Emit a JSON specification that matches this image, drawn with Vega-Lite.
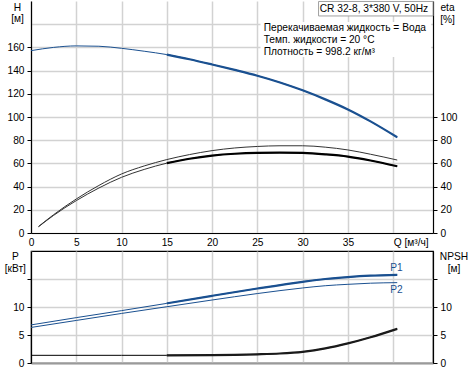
{
  "$schema": "https://vega.github.io/schema/vega-lite/v6.json",
  "padding": {"left": 3, "top": 0, "right": 0, "bottom": 0},
  "background": "white",
  "config": {
    "font": "Liberation Sans",
    "view": {"stroke": null},
    "axis": {
      "labelFont": "Liberation Sans", "labelFontSize": 10.2, "labelColor": "#000", "labelOverlap": false,
      "titleFont": "Liberation Sans", "titleFontSize": 10.2, "titleFontWeight": "normal", "titleColor": "#000",
      "domainColor": "#000", "domainWidth": 1.2, "tickColor": "#000", "tickSize": 4, "labelPadding": 3,
      "gridColor": "#d2d2d2", "gridWidth": 1.5
    },
    "line": {"interpolate": "monotone"},
    "text": {"font": "Liberation Sans", "fontSize": 10.2, "color": "#000"}
  },
  "datasets": {
    "curves": [
      {"curve": "H", "Q": 0, "value": 157.2},
      {"curve": "H", "Q": 2.5, "value": 160.0},
      {"curve": "H", "Q": 5, "value": 161.3},
      {"curve": "H", "Q": 7.5, "value": 161.0},
      {"curve": "H", "Q": 10, "value": 159.2},
      {"curve": "H", "Q": 12.5, "value": 156.7},
      {"curve": "H", "Q": 15, "value": 153.8},
      {"curve": "H", "Q": 17.5, "value": 149.8},
      {"curve": "H", "Q": 20, "value": 145.3},
      {"curve": "H", "Q": 22.5, "value": 140.6},
      {"curve": "H", "Q": 25, "value": 135.6},
      {"curve": "H", "Q": 27.5, "value": 129.8},
      {"curve": "H", "Q": 30, "value": 123.0},
      {"curve": "H", "Q": 32.5, "value": 115.2},
      {"curve": "H", "Q": 35, "value": 106.5},
      {"curve": "H", "Q": 37.5, "value": 96.2},
      {"curve": "H", "Q": 40.45, "value": 82.5},
      {"curve": "eta1", "Q": 0.83, "value": 5.6},
      {"curve": "eta1", "Q": 2.5, "value": 15.8},
      {"curve": "eta1", "Q": 5, "value": 29.3},
      {"curve": "eta1", "Q": 7.5, "value": 41.0},
      {"curve": "eta1", "Q": 10, "value": 50.9},
      {"curve": "eta1", "Q": 12.5, "value": 57.8},
      {"curve": "eta1", "Q": 15, "value": 63.3},
      {"curve": "eta1", "Q": 17.5, "value": 67.6},
      {"curve": "eta1", "Q": 20, "value": 71.0},
      {"curve": "eta1", "Q": 22.5, "value": 73.3},
      {"curve": "eta1", "Q": 25, "value": 74.6},
      {"curve": "eta1", "Q": 27.5, "value": 75.2},
      {"curve": "eta1", "Q": 30, "value": 75.2},
      {"curve": "eta1", "Q": 32.5, "value": 74.0},
      {"curve": "eta1", "Q": 35, "value": 71.6},
      {"curve": "eta1", "Q": 37.5, "value": 67.9},
      {"curve": "eta1", "Q": 40.45, "value": 62.9},
      {"curve": "eta2", "Q": 0.83, "value": 5.4},
      {"curve": "eta2", "Q": 2.5, "value": 15.2},
      {"curve": "eta2", "Q": 5, "value": 27.9},
      {"curve": "eta2", "Q": 7.5, "value": 38.8},
      {"curve": "eta2", "Q": 10, "value": 48.0},
      {"curve": "eta2", "Q": 12.5, "value": 54.8},
      {"curve": "eta2", "Q": 15, "value": 60.2},
      {"curve": "eta2", "Q": 17.5, "value": 64.0},
      {"curve": "eta2", "Q": 20, "value": 66.7},
      {"curve": "eta2", "Q": 22.5, "value": 68.3},
      {"curve": "eta2", "Q": 25, "value": 69.1},
      {"curve": "eta2", "Q": 27.5, "value": 69.3},
      {"curve": "eta2", "Q": 30, "value": 69.0},
      {"curve": "eta2", "Q": 32.5, "value": 67.8},
      {"curve": "eta2", "Q": 35, "value": 65.9},
      {"curve": "eta2", "Q": 37.5, "value": 62.5},
      {"curve": "eta2", "Q": 40.45, "value": 57.5},
      {"curve": "P1", "Q": 0, "value": 6.8},
      {"curve": "P1", "Q": 5, "value": 8.1},
      {"curve": "P1", "Q": 10, "value": 9.35},
      {"curve": "P1", "Q": 15, "value": 10.65},
      {"curve": "P1", "Q": 20, "value": 12.0},
      {"curve": "P1", "Q": 25, "value": 13.3},
      {"curve": "P1", "Q": 30, "value": 14.5},
      {"curve": "P1", "Q": 32.5, "value": 15.0},
      {"curve": "P1", "Q": 35, "value": 15.35},
      {"curve": "P1", "Q": 37.5, "value": 15.6},
      {"curve": "P1", "Q": 40.45, "value": 15.75},
      {"curve": "P2", "Q": 0, "value": 6.35},
      {"curve": "P2", "Q": 5, "value": 7.6},
      {"curve": "P2", "Q": 10, "value": 8.85},
      {"curve": "P2", "Q": 15, "value": 10.05},
      {"curve": "P2", "Q": 20, "value": 11.25},
      {"curve": "P2", "Q": 25, "value": 12.4},
      {"curve": "P2", "Q": 30, "value": 13.4},
      {"curve": "P2", "Q": 32.5, "value": 13.8},
      {"curve": "P2", "Q": 35, "value": 14.05},
      {"curve": "P2", "Q": 37.5, "value": 14.25},
      {"curve": "P2", "Q": 40.45, "value": 14.35},
      {"curve": "NPSH", "Q": 0, "value": 1.37},
      {"curve": "NPSH", "Q": 10, "value": 1.37},
      {"curve": "NPSH", "Q": 15, "value": 1.37},
      {"curve": "NPSH", "Q": 20, "value": 1.4},
      {"curve": "NPSH", "Q": 22.5, "value": 1.45},
      {"curve": "NPSH", "Q": 25, "value": 1.55},
      {"curve": "NPSH", "Q": 27.5, "value": 1.7},
      {"curve": "NPSH", "Q": 30, "value": 2.0},
      {"curve": "NPSH", "Q": 32.5, "value": 2.6},
      {"curve": "NPSH", "Q": 35, "value": 3.5},
      {"curve": "NPSH", "Q": 37.5, "value": 4.6},
      {"curve": "NPSH", "Q": 40.45, "value": 6.1}
    ]
  },
  "spacing": 18,
  "bounds": "flush",
  "vconcat": [
    {
      "width": 402,
      "height": 232,
      "layer": [
        {
          "layer": [
            {
              "data": {"name": "curves"},
              "transform": [{"filter": "datum.curve === 'H'"}],
              "mark": {"type": "line", "color": "#1a5090", "strokeWidth": 1},
              "encoding": {
                "x": {"field": "Q", "type": "quantitative", "scale": {"domain": [0, 44.4], "nice": false},
                  "axis": {"values": [0, 5, 10, 15, 20, 25, 30, 35, 40], "tickCount": 40, "format": "d", "title": null, "grid": true, "tickSize": 0, "labelPadding": 4,
                    "labelOverlap": false,
                    "labelExpr": "datum.value == 40 ? 'Q [м³/ч]' : datum.label",
                    "labelAlign": {"condition": {"test": "datum.value == 40", "value": "left"}, "value": "center"},
                    "labelFlush": false}},
                "y": {"field": "value", "type": "quantitative", "scale": {"domain": [0, 200], "nice": false},
                  "axis": {"values": [0, 20, 40, 60, 80, 100, 120, 140, 160, 180], "tickCount": 40, "format": "d", "grid": true, "labelOverlap": false,
                    "labelExpr": "datum.value > 160 ? '' : datum.label",
                    "tickOpacity": {"condition": {"test": "datum.value > 160", "value": 0}, "value": 1},
                    "title": ["H", "[м]"], "titleAngle": 0, "titleAlign": "center", "titleBaseline": "top",
                    "titleX": -14, "titleY": 1, "titleLineHeight": 11.5}}
              }
            },
            {
              "data": {"name": "curves"},
              "transform": [{"filter": "datum.curve === 'H' && datum.Q >= 15"}],
              "mark": {"type": "line", "color": "#1a5090", "strokeWidth": 2.2},
              "encoding": {
                "x": {"field": "Q", "type": "quantitative"},
                "y": {"field": "value", "type": "quantitative"}
              }
            },
            {
              "data": {"values": [{}]},
              "mark": {"type": "rect", "fill": "white"},
              "encoding": {
                "x": {"datum": 25.35, "type": "quantitative"},
                "x2": {"datum": 44.2},
                "y": {"datum": 181.9, "type": "quantitative"},
                "y2": {"datum": 151.7}
              }
            },
            {
              "data": {"values": [{}]},
              "mark": {"type": "text", "align": "left", "baseline": "alphabetic", "lineHeight": 12.2,
                "text": ["Перекачиваемая жидкость = Вода", "Темп. жидкости = 20 °C", "Плотность = 998.2 кг/м³"]},
              "encoding": {
                "x": {"datum": 25.7, "type": "quantitative"},
                "y": {"datum": 174.1, "type": "quantitative"}
              }
            },
            {
              "data": {"values": [{}]},
              "mark": {"type": "rect", "fill": "white", "stroke": "#a0a0a0", "strokeWidth": 1},
              "encoding": {
                "x": {"datum": 31.76, "type": "quantitative"},
                "x2": {"datum": 44.4},
                "y": {"datum": 199.6, "type": "quantitative"},
                "y2": {"datum": 187.1}
              }
            },
            {
              "data": {"values": [{"label": "CR 32-8, 3*380 V, 50Hz"}]},
              "mark": {"type": "text", "align": "left", "baseline": "alphabetic"},
              "encoding": {
                "x": {"datum": 31.89, "type": "quantitative"},
                "y": {"datum": 190.8, "type": "quantitative"},
                "text": {"field": "label"}
              }
            }
          ]
        },
        {
          "layer": [
            {
              "data": {"name": "curves"},
              "transform": [{"filter": "datum.curve === 'eta1'"}],
              "mark": {"type": "line", "color": "#333333", "strokeWidth": 1},
              "encoding": {
                "x": {"field": "Q", "type": "quantitative"},
                "y": {"field": "value", "type": "quantitative", "scale": {"domain": [0, 200], "nice": false},
                  "axis": {"orient": "right", "values": [0, 20, 40, 60, 80, 100, 120, 140, 160, 180], "tickCount": 40, "format": "d", "grid": false, "labelOverlap": false,
                    "labelExpr": "datum.value > 100 ? '' : datum.label",
                    "tickOpacity": {"condition": {"test": "datum.value > 100", "value": 0}, "value": 1},
                    "title": ["eta", "[%]"], "titleAngle": 0, "titleAlign": "center", "titleBaseline": "top",
                    "titleX": 14, "titleY": 1.5, "titleLineHeight": 11.5}}
              }
            },
            {
              "data": {"name": "curves"},
              "transform": [{"filter": "datum.curve === 'eta2'"}],
              "mark": {"type": "line", "color": "#333333", "strokeWidth": 1},
              "encoding": {
                "x": {"field": "Q", "type": "quantitative"},
                "y": {"field": "value", "type": "quantitative"}
              }
            },
            {
              "data": {"name": "curves"},
              "transform": [{"filter": "datum.curve === 'eta2' && datum.Q >= 15"}],
              "mark": {"type": "line", "color": "#000000", "strokeWidth": 2.2},
              "encoding": {
                "x": {"field": "Q", "type": "quantitative"},
                "y": {"field": "value", "type": "quantitative"}
              }
            }
          ]
        }
      ],
      "resolve": {"scale": {"y": "independent"}}
    },
    {
      "width": 402,
      "height": 112,
      "view": {"stroke": "#000", "strokeWidth": 1.2},
      "layer": [
        {
          "layer": [
            {
              "data": {"name": "curves"},
              "transform": [{"filter": "datum.curve === 'P1'"}],
              "mark": {"type": "line", "color": "#1a5090", "strokeWidth": 1},
              "encoding": {
                "x": {"field": "Q", "type": "quantitative", "scale": {"domain": [0, 44.4], "nice": false},
                  "axis": {"values": [0, 5, 10, 15, 20, 25, 30, 35, 40], "tickCount": 40, "title": null, "grid": true, "labels": false, "ticks": false,
                    "domainColor": "#9a9a9a", "domainWidth": 2}},
                "y": {"field": "value", "type": "quantitative", "scale": {"domain": [0, 20], "nice": false},
                  "axis": {"values": [0, 5, 10, 15], "tickCount": 40, "format": "d", "grid": true, "labelOverlap": false,
                    "labelExpr": "datum.value > 10 ? '' : datum.label",
                    "title": ["P", "[кВт]"], "titleAngle": 0, "titleAlign": "center", "titleBaseline": "top",
                    "titleX": -16.2, "titleY": 0.8, "titleLineHeight": 11.5}}
              }
            },
            {
              "data": {"name": "curves"},
              "transform": [{"filter": "datum.curve === 'P1' && datum.Q >= 15"}],
              "mark": {"type": "line", "color": "#1a5090", "strokeWidth": 2.2},
              "encoding": {
                "x": {"field": "Q", "type": "quantitative"},
                "y": {"field": "value", "type": "quantitative"}
              }
            },
            {
              "data": {"name": "curves"},
              "transform": [{"filter": "datum.curve === 'P2'"}],
              "mark": {"type": "line", "color": "#1a5090", "strokeWidth": 1},
              "encoding": {
                "x": {"field": "Q", "type": "quantitative"},
                "y": {"field": "value", "type": "quantitative"}
              }
            },
            {
              "data": {"values": [{"label": "P1"}]},
              "mark": {"type": "text", "align": "center", "baseline": "middle", "color": "#1a5090", "fontSize": 10.2},
              "encoding": {
                "x": {"datum": 40.37, "type": "quantitative"},
                "y": {"datum": 17.0, "type": "quantitative"},
                "text": {"field": "label"}
              }
            },
            {
              "data": {"values": [{"label": "P2"}]},
              "mark": {"type": "text", "align": "center", "baseline": "middle", "color": "#1a5090", "fontSize": 10.2},
              "encoding": {
                "x": {"datum": 40.37, "type": "quantitative"},
                "y": {"datum": 13.1, "type": "quantitative"},
                "text": {"field": "label"}
              }
            }
          ]
        },
        {
          "layer": [
            {
              "data": {"name": "curves"},
              "transform": [{"filter": "datum.curve === 'NPSH'"}],
              "mark": {"type": "line", "color": "#000000", "strokeWidth": 1},
              "encoding": {
                "x": {"field": "Q", "type": "quantitative"},
                "y": {"field": "value", "type": "quantitative", "scale": {"domain": [0, 20], "nice": false},
                  "axis": {"orient": "right", "values": [0, 5, 10, 15], "tickCount": 40, "format": "d", "grid": false, "labelOverlap": false,
                    "labelExpr": "datum.value > 10 ? '' : datum.label",
                    "title": ["NPSH", "[м]"], "titleAngle": 0, "titleAlign": "center", "titleBaseline": "top",
                    "titleX": 20.5, "titleY": 0.8, "titleLineHeight": 11.5}}
              }
            },
            {
              "data": {"name": "curves"},
              "transform": [{"filter": "datum.curve === 'NPSH' && datum.Q >= 15"}],
              "mark": {"type": "line", "color": "#1a1a1a", "strokeWidth": 2.2},
              "encoding": {
                "x": {"field": "Q", "type": "quantitative"},
                "y": {"field": "value", "type": "quantitative"}
              }
            }
          ]
        }
      ],
      "resolve": {"scale": {"y": "independent"}}
    }
  ]
}
